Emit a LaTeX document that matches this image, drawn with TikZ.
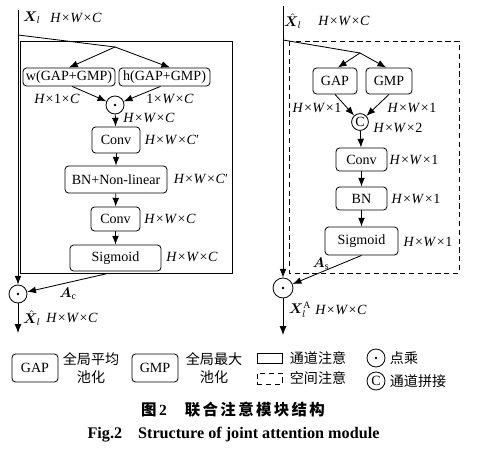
\documentclass[tikz,border=0pt]{standalone}
\usepackage{fontspec}
\usepackage{amsmath,bm}
\setmainfont{Liberation Serif}
\newfontfamily\cjk{Noto Sans CJK SC}
\newfontfamily\cjkcap{Noto Sans CJK SC}[LetterSpace=15]
\usetikzlibrary{arrows.meta}
\newcommand\tms{\kern.4pt×\kern.4pt}

\tikzset{
  blk/.style={draw, rounded corners=0.9mm, inner sep=0pt, font=\fontsize{10}{12}\selectfont},
  dotop/.style={draw, circle, minimum size=4.5mm, inner sep=0pt,
    path picture={\fill (path picture bounding box.center) circle (0.35mm);}},
  catop/.style={draw, circle, minimum size=4.2mm, inner sep=0pt, font=\fontsize{10}{12}\selectfont},
  dim/.style={font=\fontsize{10}{12}\selectfont, inner sep=0pt},
  legtxt/.style={font=\cjk\fontsize{10}{12.5}\selectfont, inner sep=0pt, align=center},
  flow/.style={-{Latex[length=2.2mm,width=1.7mm]}},
}

\begin{document}
\begin{tikzpicture}[x=0.25mm,y=-0.25mm,line width=0.6pt]
\useasboundingbox (0,0) rectangle (480,450);

% channel attention (solid frame)
\draw (20,41) rectangle (232,273);
\coordinate (cin) at (18,10);
\coordinate (csplit) at (18,35);
\coordinate (cjoin) at (115,47);
\coordinate (cend) at (18,333);
\node[blk, minimum width=23mm, minimum height=4.5mm] (wpool) at (69,77) {w(GAP+GMP)};
\node[blk, minimum width=22.75mm, minimum height=4.5mm] (hpool) at (164.5,77) {h(GAP+GMP)};
\node[dotop] (cmul) at (115,105) {};
\node[blk, minimum width=12mm, minimum height=6.5mm] (cconv1) at (116,140) {Conv};
\node[blk, minimum width=25.5mm, minimum height=6.75mm] (cbn) at (116,179.5) {BN+Non-linear};
\node[blk, minimum width=12.25mm, minimum height=6mm] (cconv2) at (115.5,219) {Conv};
\node[blk, minimum width=22.75mm, minimum height=6.5mm] (csig) at (115.5,258) {Sigmoid};
\node[dotop] (cout) at (18,294) {};

\node[dim] (lcin) at (32,18) {$\bm{X}_l$};
\node[dim] (lcind) at (76,18) {\textit{H}\tms\textit{W}\tms\textit{C}};
\node[dim] (lwpool) at (57,99) {\textit{H}\tms1\tms\textit{C}};
\node[dim] (lhpool) at (170,99) {1\tms\textit{W}\tms\textit{C}};
\node[dim] (lcmul) at (149,118) {\textit{H}\tms\textit{W}\tms\textit{C}};
\node[dim] (lcconv1) at (172,140) {\textit{H}\tms\textit{W}\tms\textit{C}′};
\node[dim] (lcbn) at (201,179) {\textit{H}\tms\textit{W}\tms\textit{C}′};
\node[dim] (lcconv2) at (170,219) {\textit{H}\tms\textit{W}\tms\textit{C}};
\node[dim] (lcsig) at (192,257) {\textit{H}\tms\textit{W}\tms\textit{C}};
\node[dim] (lac) at (68,294) {$\bm{A}_{\mathrm{c}}$};
\node[dim] (lcout) at (32,318) {$\hat{\bm{X}}_l$};
\node[dim] (lcoutd) at (72,318) {\textit{H}\tms\textit{W}\tms\textit{C}};

\draw (csplit) -- (cjoin);
\draw[flow] (cjoin) -- (wpool.north);
\draw[flow] (cjoin) -- ([xshift=1.4mm]hpool.north);
\draw[flow] ([xshift=0.8mm]wpool.south) -- (cmul);
\draw[flow] ([xshift=-1mm]hpool.south) -- (cmul);
\draw[flow] (cmul) -- (cconv1);
\draw[flow] (cconv1) -- (cbn);
\draw[flow] (cbn) -- (cconv2);
\draw[flow] (cconv2) -- (csig);
\draw[flow] ([xshift=-1.9mm,yshift=-0.5mm]csig.south) -- (cout);
\draw[flow] (cin) -- (cout);
\draw[flow] (cout) -- (cend);

% spatial attention (dashed frame)
\draw[dash pattern=on 1.3mm off 0.9mm] (289,41) rectangle (459,273);
\coordinate (sin) at (283,6);
\coordinate (ssplit) at (283,40);
\coordinate (sjoin) at (360,53);
\coordinate (send) at (283,335);
\node[blk, minimum width=11mm, minimum height=6.5mm] (gap) at (335,81) {GAP};
\node[blk, minimum width=11.5mm, minimum height=6.5mm] (gmp) at (389,81) {GMP};
\node[catop] (scat) at (360,122) {C};
\node[blk, minimum width=12.75mm, minimum height=5.75mm] (sconv) at (361.5,159.5) {Conv};
\node[blk, minimum width=12.75mm, minimum height=5.75mm] (sbn) at (361.5,198.5) {BN};
\node[blk, minimum width=18.25mm, minimum height=7mm] (ssig) at (361.5,241) {Sigmoid};
\node[dotop, minimum size=5mm] (sout) at (283,288) {};

\node[dim] (lsin) at (293,21) {$\hat{\bm{X}}_l$};
\node[dim] (lsind) at (344,21) {\textit{H}\tms\textit{W}\tms\textit{C}};
\node[dim] (lgap) at (317,108) {\textit{H}\tms\textit{W}\tms1};
\node[dim] (lgmp) at (412,108) {\textit{H}\tms\textit{W}\tms1};
\node[dim] (lscat) at (398,128) {\textit{H}\tms\textit{W}\tms2};
\node[dim] (lsconv) at (414,160) {\textit{H}\tms\textit{W}\tms1};
\node[dim] (lsbn) at (416,199) {\textit{H}\tms\textit{W}\tms1};
\node[dim] (lssig) at (428,242) {\textit{H}\tms\textit{W}\tms1};
\node[dim] (las) at (321,264) {$\bm{A}_{\mathrm{s}}$};
\node[dim] (lsout) at (300,310) {$\bm{X}_l^{\mathrm{A}}$};
\node[dim] (lsoutd) at (341,310) {\textit{H}\tms\textit{W}\tms\textit{C}};

\draw (ssplit) -- (sjoin);
\draw[flow] (sjoin) -- ([xshift=0.7mm]gap.north);
\draw[flow] (sjoin) -- ([xshift=-0.7mm]gmp.north);
\draw[flow] (gap.south) -- (scat);
\draw[flow] (gmp.south) -- (scat);
\draw[flow] (scat) -- (sconv);
\draw[flow] (sconv) -- (sbn);
\draw[flow] (sbn) -- (ssig);
\draw[flow] (ssig.south) -- (sout);
\draw[flow] (sin) -- (sout);
\draw[flow] (sout) -- (send);

% legend
\node[blk, minimum width=11.5mm, minimum height=7mm] (lggap) at (35,368) {GAP};
\node[legtxt] (lggapt) at (91,368) {全局平均\\池化};
\node[blk, minimum width=11.5mm, minimum height=7mm] (lggmp) at (155,368) {GMP};
\node[legtxt] (lggmpt) at (214,368) {全局最大\\池化};
\node[draw, minimum width=6.25mm, minimum height=2.5mm, inner sep=0pt] (lgch) at (269.5,358) {};
\node[legtxt] (lgcht) at (318,358) {通道注意};
\node[draw, dash pattern=on 1.3mm off 0.9mm, minimum width=6.25mm, minimum height=2.75mm, inner sep=0pt] (lgsp) at (269.5,378.5) {};
\node[legtxt] (lgspt) at (318,378) {空间注意};
\node[dotop] (lgdot) at (376,358) {};
\node[legtxt] (lgdott) at (404,358) {点乘};
\node[catop, minimum size=4.5mm] (lgcat) at (376,381) {C};
\node[legtxt] (lgcatt) at (418,381) {通道拼接};

% caption
\node[inner sep=0pt] (capcn) at (233,410) {\cjkcap\bfseries\fontsize{11}{13}\selectfont 图\,{\rmfamily 2}\hspace{4.5mm}联合注意模块结构};
\node[inner sep=0pt] (capen) at (233.5,435) {\bfseries\fontsize{11.5}{13}\selectfont Fig.2\hspace{4mm}Structure of joint attention module};
\end{tikzpicture}
\end{document}
